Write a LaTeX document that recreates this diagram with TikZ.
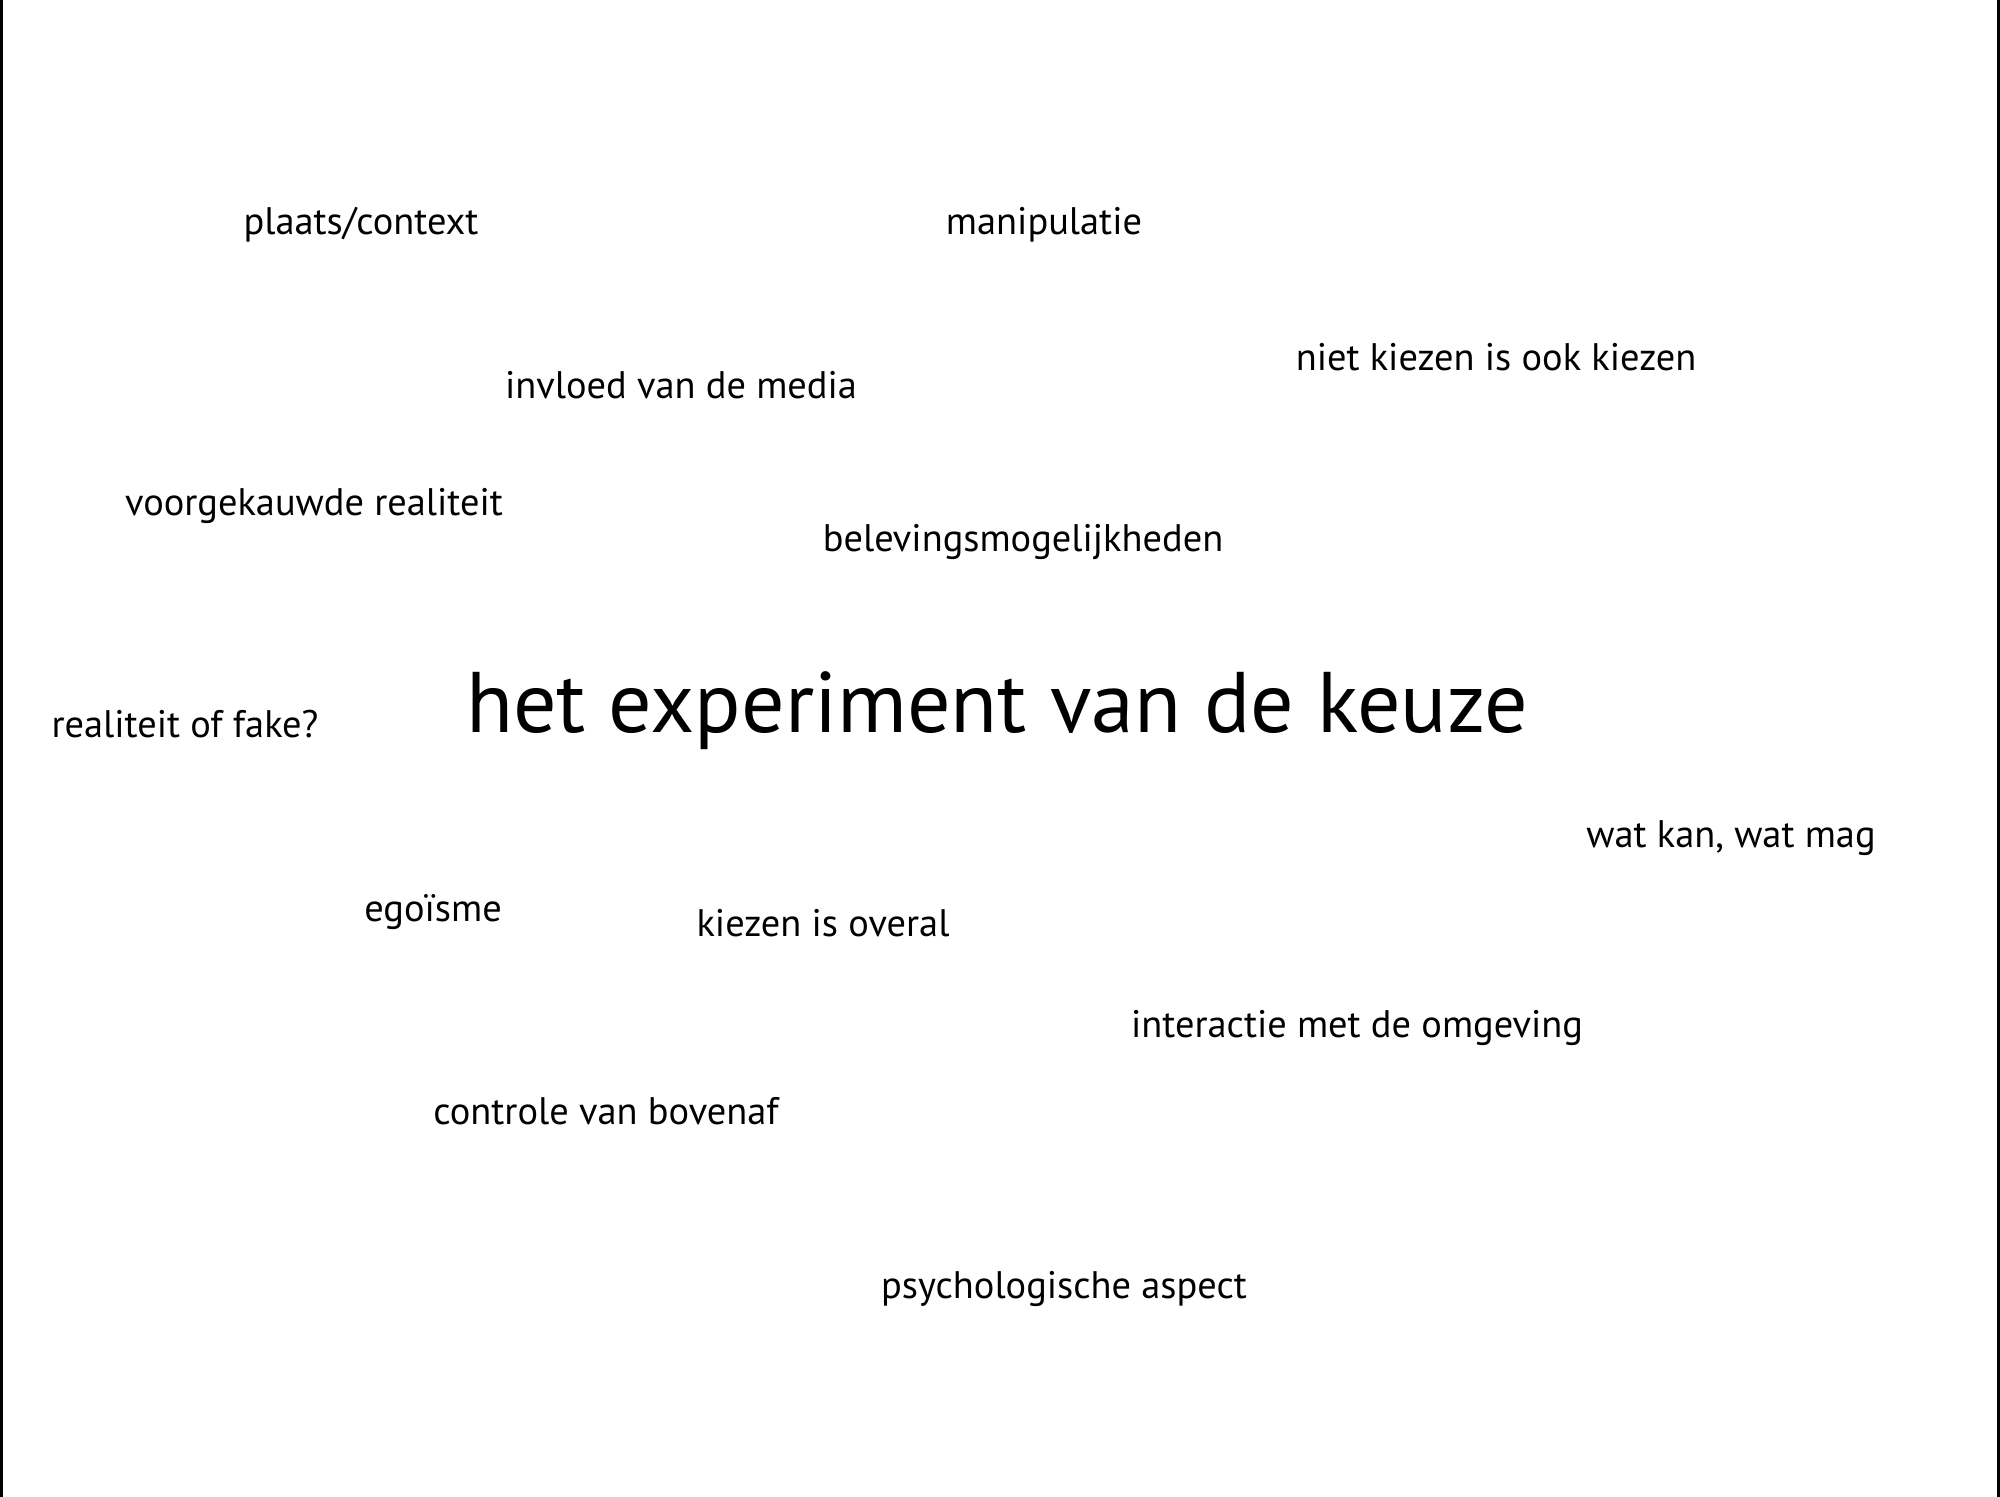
\documentclass[tikz,border=0pt]{standalone}
\usepackage{fontspec}
\setmainfont{PT Sans}
\begin{document}
\begin{tikzpicture}[x=0.5pt,y=-0.5pt,
  word/.style={anchor=base,inner sep=0pt,font=\fontsize{19.2}{22}\selectfont,text=black},
  title/.style={anchor=base,inner sep=0pt,font=\fontsize{43}{50}\selectfont,text=black},
  edge/.style={line width=1.3pt,black}]
\fill[white] (0,0) rectangle (2000,1497);
\useasboundingbox (0,0) rectangle (2000,1497);
\draw[edge] (1.3,0) -- (1.3,1497);
\draw[edge] (1998.7,0) -- (1998.7,1497);
\node[word] (n1) at (361,235) {plaats/context};
\node[word] (n2) at (1044,235) {manipulatie};
\node[word] (n3) at (1496,371) {niet kiezen is ook kiezen};
\node[word] (n4) at (681,399) {invloed van de media};
\node[word] (n5) at (314,515) {voorgekauwde realiteit};
\node[word] (n6) at (1023,551) {belevingsmogelijkheden};
\node[word] (n7) at (185,737) {realiteit of fake?};
\node[title] (c) at (997,732) {het experiment van de keuze};
\node[word] (n9) at (1731,847) {wat kan, wat mag};
\node[word] (n10) at (433,921) {egoïsme};
\node[word] (n11) at (823,936) {kiezen is overal};
\node[word] (n12) at (1357,1037) {interactie met de omgeving};
\node[word] (n13) at (606,1124) {controle van bovenaf};
\node[word] (n14) at (1064,1298) {psychologische aspect};
\end{tikzpicture}
\end{document}
